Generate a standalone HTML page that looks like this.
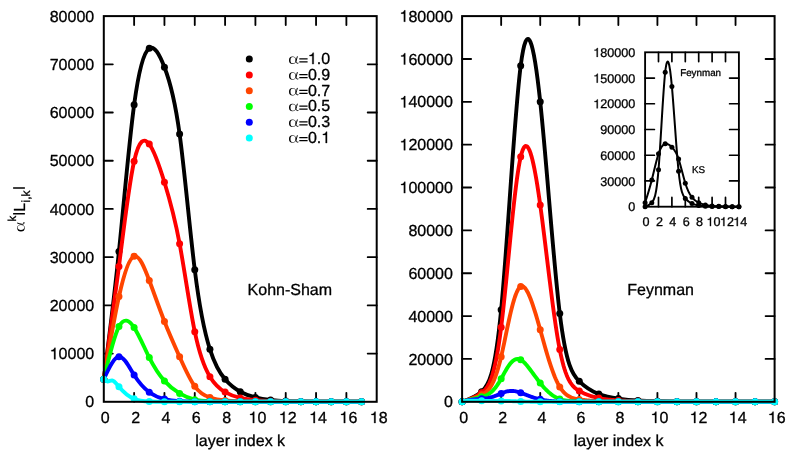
<!DOCTYPE html>
<html><head><meta charset="utf-8"><title>layer index plots</title>
<style>html,body{margin:0;padding:0;background:#fff;overflow:hidden}svg{display:block;will-change:transform}text,.n1{stroke:#000;stroke-width:.3px;stroke-linejoin:round}</style></head>
<body>
<svg width="805" height="458" viewBox="0 0 805 458" font-family='"Liberation Sans", sans-serif' fill="#000" text-rendering="geometricPrecision">
<rect width="805" height="458" fill="#fff"/>
<clipPath id="cl"><rect x="99.8" y="12.1" width="280.9" height="393.7"/></clipPath>
<path d="M134.12 401.8V392.8M134.12 16.1V25.1M164.44 401.8V392.8M164.44 16.1V25.1M194.77 401.8V392.8M194.77 16.1V25.1M225.09 401.8V392.8M225.09 16.1V25.1M255.41 401.8V392.8M255.41 16.1V25.1M285.73 401.8V392.8M285.73 16.1V25.1M316.06 401.8V392.8M316.06 16.1V25.1M346.38 401.8V392.8M346.38 16.1V25.1M103.8 353.59H112.8M376.7 353.59H367.7M103.8 305.38H112.8M376.7 305.38H367.7M103.8 257.16H112.8M376.7 257.16H367.7M103.8 208.95H112.8M376.7 208.95H367.7M103.8 160.74H112.8M376.7 160.74H367.7M103.8 112.53H112.8M376.7 112.53H367.7M103.8 64.31H112.8M376.7 64.31H367.7" fill="none" stroke="#000" stroke-width="1.84" stroke-linecap="round"/>
<g clip-path="url(#cl)">
<path d="M103.8 379.29C108.85 340.04 113.91 300.78 118.96 251.38C124.01 201.97 129.07 142.42 134.12 104.81C139.18 67.2 144.23 51.54 149.28 48.31C154.34 45.08 159.39 54.28 164.44 67.21C169.5 80.13 174.55 96.78 179.61 134.08C184.66 171.37 189.71 229.32 194.77 269.87C199.82 310.42 204.87 333.57 209.93 349.3C214.98 365.02 220.04 373.31 225.09 379.29C230.14 385.27 235.2 388.94 240.25 391.68C245.3 394.41 250.36 396.2 255.41 397.46C260.46 398.72 265.52 399.44 270.57 399.97C275.63 400.5 280.68 400.85 285.73 401.08C290.79 401.31 295.84 401.42 300.89 401.51C305.95 401.6 311 401.66 316.06 401.7C321.11 401.75 326.16 401.79 331.22 401.8C336.27 401.81 341.32 401.8 346.38 401.8C351.43 401.8 356.49 401.8 361.54 401.8" fill="none" stroke="#000000" stroke-width="3.9" stroke-linejoin="round" stroke-linecap="round"/>
<g fill="#000000"><circle cx="103.8" cy="379.29" r="3.5"/><circle cx="118.96" cy="251.38" r="3.5"/><circle cx="134.12" cy="104.81" r="3.5"/><circle cx="149.28" cy="48.31" r="3.5"/><circle cx="164.44" cy="67.21" r="3.5"/><circle cx="179.61" cy="134.08" r="3.5"/><circle cx="194.77" cy="269.87" r="3.5"/><circle cx="209.93" cy="349.3" r="3.5"/><circle cx="225.09" cy="379.29" r="3.5"/><circle cx="240.25" cy="391.68" r="3.5"/><circle cx="255.41" cy="397.46" r="3.5"/><circle cx="270.57" cy="399.97" r="3.5"/><circle cx="285.73" cy="401.08" r="3.5"/><circle cx="300.89" cy="401.51" r="3.5"/><circle cx="316.06" cy="401.7" r="3.5"/><circle cx="331.22" cy="401.8" r="3.5"/><circle cx="346.38" cy="401.8" r="3.5"/><circle cx="361.54" cy="401.8" r="3.5"/></g>
<path d="M103.8 379.29C108.85 342.76 113.91 306.22 118.96 266.42C124.01 226.62 129.07 183.55 134.12 161.24C139.18 138.93 144.23 137.38 149.28 144.1C154.34 150.83 159.39 165.84 164.44 182.27C169.5 198.71 174.55 216.56 179.61 243.71C184.66 270.86 189.71 307.3 194.77 331.69C199.82 356.07 204.87 368.41 209.93 376.69C214.98 384.96 220.04 389.18 225.09 392.11C230.14 395.04 235.2 396.69 240.25 397.88C245.3 399.07 250.36 399.79 255.41 400.29C260.46 400.78 265.52 401.04 270.57 401.23C275.63 401.41 280.68 401.52 285.73 401.6C290.79 401.67 295.84 401.7 300.89 401.73C305.95 401.75 311 401.77 316.06 401.78C321.11 401.79 326.16 401.8 331.22 401.8C336.27 401.8 341.32 401.8 346.38 401.8C351.43 401.8 356.49 401.8 361.54 401.8" fill="none" stroke="#ff0000" stroke-width="3.9" stroke-linejoin="round" stroke-linecap="round"/>
<g fill="#ff0000"><circle cx="103.8" cy="379.29" r="3.5"/><circle cx="118.96" cy="266.42" r="3.5"/><circle cx="134.12" cy="161.24" r="3.5"/><circle cx="149.28" cy="144.1" r="3.5"/><circle cx="164.44" cy="182.27" r="3.5"/><circle cx="179.61" cy="243.71" r="3.5"/><circle cx="194.77" cy="331.69" r="3.5"/><circle cx="209.93" cy="376.69" r="3.5"/><circle cx="225.09" cy="392.11" r="3.5"/><circle cx="240.25" cy="397.88" r="3.5"/><circle cx="255.41" cy="400.29" r="3.5"/><circle cx="270.57" cy="401.23" r="3.5"/><circle cx="285.73" cy="401.6" r="3.5"/><circle cx="300.89" cy="401.73" r="3.5"/><circle cx="316.06" cy="401.78" r="3.5"/><circle cx="331.22" cy="401.8" r="3.5"/><circle cx="346.38" cy="401.8" r="3.5"/><circle cx="361.54" cy="401.8" r="3.5"/></g>
<path d="M103.8 379.29C108.85 349.32 113.91 319.35 118.96 296.5C124.01 273.65 129.07 257.92 134.12 256.28C139.18 254.63 144.23 267.06 149.28 280.55C154.34 294.04 159.39 308.59 164.44 321.46C169.5 334.34 174.55 345.55 179.61 356.8C184.66 368.05 189.71 379.35 194.77 386.28C199.82 393.21 204.87 395.78 209.93 397.48C214.98 399.17 220.04 399.99 225.09 400.5C230.14 401.02 235.2 401.24 240.25 401.39C245.3 401.54 250.36 401.63 255.41 401.68C260.46 401.73 265.52 401.75 270.57 401.76C275.63 401.78 280.68 401.79 285.73 401.79C290.79 401.79 295.84 401.8 300.89 401.8C305.95 401.8 311 401.8 316.06 401.8C321.11 401.8 326.16 401.8 331.22 401.8C336.27 401.8 341.32 401.8 346.38 401.8C351.43 401.8 356.49 401.8 361.54 401.8" fill="none" stroke="#ff4500" stroke-width="3.9" stroke-linejoin="round" stroke-linecap="round"/>
<g fill="#ff4500"><circle cx="103.8" cy="379.29" r="3.5"/><circle cx="118.96" cy="296.5" r="3.5"/><circle cx="134.12" cy="256.28" r="3.5"/><circle cx="149.28" cy="280.55" r="3.5"/><circle cx="164.44" cy="321.46" r="3.5"/><circle cx="179.61" cy="356.8" r="3.5"/><circle cx="194.77" cy="386.28" r="3.5"/><circle cx="209.93" cy="397.48" r="3.5"/><circle cx="225.09" cy="400.5" r="3.5"/><circle cx="240.25" cy="401.39" r="3.5"/><circle cx="255.41" cy="401.68" r="3.5"/><circle cx="270.57" cy="401.76" r="3.5"/><circle cx="285.73" cy="401.79" r="3.5"/><circle cx="300.89" cy="401.8" r="3.5"/><circle cx="316.06" cy="401.8" r="3.5"/><circle cx="331.22" cy="401.8" r="3.5"/><circle cx="346.38" cy="401.8" r="3.5"/><circle cx="361.54" cy="401.8" r="3.5"/></g>
<path d="M103.8 379.29C108.85 357.66 113.91 336.02 118.96 326.59C124.01 317.16 129.07 319.94 134.12 327.55C139.18 335.17 144.23 347.61 149.28 357.61C154.34 367.62 159.39 375.18 164.44 380.89C169.5 386.6 174.55 390.45 179.61 393.43C184.66 396.42 189.71 398.54 194.77 399.74C199.82 400.94 204.87 401.21 209.93 401.39C214.98 401.57 220.04 401.66 225.09 401.71C230.14 401.76 235.2 401.77 240.25 401.78C245.3 401.79 250.36 401.79 255.41 401.8C260.46 401.8 265.52 401.8 270.57 401.8C275.63 401.8 280.68 401.8 285.73 401.8C290.79 401.8 295.84 401.8 300.89 401.8C305.95 401.8 311 401.8 316.06 401.8C321.11 401.8 326.16 401.8 331.22 401.8C336.27 401.8 341.32 401.8 346.38 401.8C351.43 401.8 356.49 401.8 361.54 401.8" fill="none" stroke="#00ff00" stroke-width="3.9" stroke-linejoin="round" stroke-linecap="round"/>
<g fill="#00ff00"><circle cx="103.8" cy="379.29" r="3.5"/><circle cx="118.96" cy="326.59" r="3.5"/><circle cx="134.12" cy="327.55" r="3.5"/><circle cx="149.28" cy="357.61" r="3.5"/><circle cx="164.44" cy="380.89" r="3.5"/><circle cx="179.61" cy="393.43" r="3.5"/><circle cx="194.77" cy="399.74" r="3.5"/><circle cx="209.93" cy="401.39" r="3.5"/><circle cx="225.09" cy="401.71" r="3.5"/><circle cx="240.25" cy="401.78" r="3.5"/><circle cx="255.41" cy="401.8" r="3.5"/><circle cx="270.57" cy="401.8" r="3.5"/><circle cx="285.73" cy="401.8" r="3.5"/><circle cx="300.89" cy="401.8" r="3.5"/><circle cx="316.06" cy="401.8" r="3.5"/><circle cx="331.22" cy="401.8" r="3.5"/><circle cx="346.38" cy="401.8" r="3.5"/><circle cx="361.54" cy="401.8" r="3.5"/></g>
<path d="M103.8 379.29C108.85 368.12 113.91 356.95 118.96 356.67C124.01 356.4 129.07 367.03 134.12 375.07C139.18 383.11 144.23 388.57 149.28 392.26C154.34 395.95 159.39 397.87 164.44 399.09C169.5 400.31 174.55 400.82 179.61 401.15C184.66 401.48 189.71 401.63 194.77 401.7C199.82 401.78 204.87 401.78 209.93 401.79C214.98 401.79 220.04 401.8 225.09 401.8C230.14 401.8 235.2 401.8 240.25 401.8C245.3 401.8 250.36 401.8 255.41 401.8C260.46 401.8 265.52 401.8 270.57 401.8C275.63 401.8 280.68 401.8 285.73 401.8C290.79 401.8 295.84 401.8 300.89 401.8C305.95 401.8 311 401.8 316.06 401.8C321.11 401.8 326.16 401.8 331.22 401.8C336.27 401.8 341.32 401.8 346.38 401.8C351.43 401.8 356.49 401.8 361.54 401.8" fill="none" stroke="#0000ff" stroke-width="3.9" stroke-linejoin="round" stroke-linecap="round"/>
<g fill="#0000ff"><circle cx="103.8" cy="379.29" r="3.5"/><circle cx="118.96" cy="356.67" r="3.5"/><circle cx="134.12" cy="375.07" r="3.5"/><circle cx="149.28" cy="392.26" r="3.5"/><circle cx="164.44" cy="399.09" r="3.5"/><circle cx="179.61" cy="401.15" r="3.5"/><circle cx="194.77" cy="401.7" r="3.5"/><circle cx="209.93" cy="401.79" r="3.5"/><circle cx="225.09" cy="401.8" r="3.5"/><circle cx="240.25" cy="401.8" r="3.5"/><circle cx="255.41" cy="401.8" r="3.5"/><circle cx="270.57" cy="401.8" r="3.5"/><circle cx="285.73" cy="401.8" r="3.5"/><circle cx="300.89" cy="401.8" r="3.5"/><circle cx="316.06" cy="401.8" r="3.5"/><circle cx="331.22" cy="401.8" r="3.5"/><circle cx="346.38" cy="401.8" r="3.5"/><circle cx="361.54" cy="401.8" r="3.5"/></g>
<path d="M103.8 379.29C104.91 380.25 106.02 381.21 107.14 381.41C108.8 381.7 110.47 380.3 112.14 380.49C114.41 380.75 116.69 383.99 118.96 386.76C124.01 392.91 129.07 396.75 134.12 398.83C139.18 400.91 144.23 401.24 149.28 401.45C154.34 401.65 159.39 401.73 164.44 401.77C169.5 401.8 174.55 401.8 179.61 401.8C184.66 401.8 189.71 401.8 194.77 401.8C199.82 401.8 204.87 401.8 209.93 401.8C214.98 401.8 220.04 401.8 225.09 401.8C230.14 401.8 235.2 401.8 240.25 401.8C245.3 401.8 250.36 401.8 255.41 401.8C260.46 401.8 265.52 401.8 270.57 401.8C275.63 401.8 280.68 401.8 285.73 401.8C290.79 401.8 295.84 401.8 300.89 401.8C305.95 401.8 311 401.8 316.06 401.8C321.11 401.8 326.16 401.8 331.22 401.8C336.27 401.8 341.32 401.8 346.38 401.8C351.43 401.8 356.49 401.8 361.54 401.8" fill="none" stroke="#00ffff" stroke-width="3.9" stroke-linejoin="round" stroke-linecap="round"/>
<g fill="#00ffff"><circle cx="103.8" cy="379.29" r="3.5"/><circle cx="118.96" cy="386.76" r="3.5"/><circle cx="134.12" cy="398.83" r="3.5"/><circle cx="149.28" cy="401.45" r="3.5"/><circle cx="164.44" cy="401.77" r="3.5"/><circle cx="179.61" cy="401.8" r="3.5"/><circle cx="194.77" cy="401.8" r="3.5"/><circle cx="209.93" cy="401.8" r="3.5"/><circle cx="225.09" cy="401.8" r="3.5"/><circle cx="240.25" cy="401.8" r="3.5"/><circle cx="255.41" cy="401.8" r="3.5"/><circle cx="270.57" cy="401.8" r="3.5"/><circle cx="285.73" cy="401.8" r="3.5"/><circle cx="300.89" cy="401.8" r="3.5"/><circle cx="316.06" cy="401.8" r="3.5"/><circle cx="331.22" cy="401.8" r="3.5"/><circle cx="346.38" cy="401.8" r="3.5"/><circle cx="361.54" cy="401.8" r="3.5"/></g>
</g>
<rect x="103.8" y="16.1" width="272.9" height="385.7" fill="none" stroke="#000" stroke-width="2" stroke-linejoin="miter"/>
<text x="100.85" y="423" font-size="16">0</text>
<text x="131.17" y="423" font-size="16">2</text>
<text x="161.5" y="423" font-size="16">4</text>
<text x="191.82" y="423" font-size="16">6</text>
<text x="222.14" y="423" font-size="16">8</text>
<text x="257.41" y="423" font-size="16">0</text><path class="n1" d="M254.26 423H252.86V414.95H250.13V413.96C251.7 413.88 252.88 413.35 253.34 411.66H254.26Z"/>
<text x="287.73" y="423" font-size="16">2</text><path class="n1" d="M284.58 423H283.19V414.95H280.45V413.96C282.02 413.88 283.2 413.35 283.67 411.66H284.58Z"/>
<text x="318.06" y="423" font-size="16">4</text><path class="n1" d="M314.9 423H313.51V414.95H310.77V413.96C312.34 413.88 313.53 413.35 313.99 411.66H314.9Z"/>
<text x="348.38" y="423" font-size="16">6</text><path class="n1" d="M345.22 423H343.83V414.95H341.1V413.96C342.66 413.88 343.85 413.35 344.31 411.66H345.22Z"/>
<text x="378.7" y="423" font-size="16">8</text><path class="n1" d="M375.55 423H374.15V414.95H371.42V413.96C372.99 413.88 374.17 413.35 374.63 411.66H375.55Z"/>
<text x="85.3" y="407.4" font-size="16">0</text>
<text x="58.61 67.5 76.4 85.3" y="359.19" font-size="16">0000</text><path class="n1" d="M55.45 359.19H54.06V351.14H51.32V350.15C52.89 350.07 54.08 349.54 54.54 347.84H55.45Z"/>
<text x="49.71 58.61 67.5 76.4 85.3" y="310.98" font-size="16">20000</text>
<text x="49.71 58.61 67.5 76.4 85.3" y="262.76" font-size="16">30000</text>
<text x="49.71 58.61 67.5 76.4 85.3" y="214.55" font-size="16">40000</text>
<text x="49.71 58.61 67.5 76.4 85.3" y="166.34" font-size="16">50000</text>
<text x="49.71 58.61 67.5 76.4 85.3" y="118.13" font-size="16">60000</text>
<text x="49.71 58.61 67.5 76.4 85.3" y="69.91" font-size="16">70000</text>
<text x="49.71 58.61 67.5 76.4 85.3" y="21.7" font-size="16">80000</text>
<clipPath id="cr"><rect x="458.1" y="12.1" width="320.5" height="393.7"/></clipPath>
<path d="M501.16 401.8V392.8M501.16 16.1V25.1M540.23 401.8V392.8M540.23 16.1V25.1M579.29 401.8V392.8M579.29 16.1V25.1M618.35 401.8V392.8M618.35 16.1V25.1M657.41 401.8V392.8M657.41 16.1V25.1M696.48 401.8V392.8M696.48 16.1V25.1M735.54 401.8V392.8M735.54 16.1V25.1M462.1 358.94H471.1M774.6 358.94H765.6M462.1 316.09H471.1M774.6 316.09H765.6M462.1 273.23H471.1M774.6 273.23H765.6M462.1 230.38H471.1M774.6 230.38H765.6M462.1 187.52H471.1M774.6 187.52H765.6M462.1 144.67H471.1M774.6 144.67H765.6M462.1 101.81H471.1M774.6 101.81H765.6M462.1 58.96H471.1M774.6 58.96H765.6" fill="none" stroke="#000" stroke-width="1.84" stroke-linecap="round"/>
<g clip-path="url(#cr)">
<path d="M462.1 401.8C468.61 399.57 475.12 397.34 481.63 391.73C488.14 386.12 494.65 377.14 501.16 309.66C507.67 242.19 514.18 116.22 520.69 65.81C527.2 15.41 533.71 40.56 540.23 101.81C546.74 163.06 553.25 260.41 559.76 313.41C566.27 366.41 572.78 375.05 579.29 381.34C585.8 387.63 592.31 391.56 598.82 394.09C605.33 396.61 611.84 397.71 618.35 398.59C624.86 399.46 631.37 400.1 637.88 400.51C644.39 400.93 650.9 401.12 657.41 401.26C663.92 401.41 670.43 401.51 676.94 401.59C683.45 401.66 689.96 401.7 696.48 401.74C702.99 401.77 709.5 401.79 716.01 401.8C722.52 401.81 729.03 401.8 735.54 401.8C742.05 401.8 748.56 401.8 755.07 401.8C761.58 401.8 768.09 401.8 774.6 401.8" fill="none" stroke="#000000" stroke-width="3.9" stroke-linejoin="round" stroke-linecap="round"/>
<g fill="#000000"><circle cx="462.1" cy="401.8" r="3.5"/><circle cx="481.63" cy="391.73" r="3.5"/><circle cx="501.16" cy="309.66" r="3.5"/><circle cx="520.69" cy="65.81" r="3.5"/><circle cx="540.23" cy="101.81" r="3.5"/><circle cx="559.76" cy="313.41" r="3.5"/><circle cx="579.29" cy="381.34" r="3.5"/><circle cx="598.82" cy="394.09" r="3.5"/><circle cx="618.35" cy="398.59" r="3.5"/><circle cx="637.88" cy="400.51" r="3.5"/><circle cx="657.41" cy="401.26" r="3.5"/><circle cx="676.94" cy="401.59" r="3.5"/><circle cx="696.48" cy="401.74" r="3.5"/><circle cx="716.01" cy="401.8" r="3.5"/><circle cx="735.54" cy="401.8" r="3.5"/><circle cx="755.07" cy="401.8" r="3.5"/><circle cx="774.6" cy="401.8" r="3.5"/></g>
<path d="M462.1 401.8L463.08 401.47L464.05 401.13L465.03 400.8L466.01 400.46L466.98 400.12L467.96 399.77L468.94 399.4L469.91 399.03L470.89 398.63L471.87 398.22L472.84 397.8L473.82 397.34L474.8 396.87L475.77 396.37L476.75 395.84L477.73 395.29L478.7 394.7L479.68 394.08L480.65 393.43L481.63 392.74L482.61 392L483.58 391.19L484.56 390.28L485.54 389.21L486.51 387.97L487.49 386.52L488.47 384.83L489.44 382.86L490.42 380.59L491.4 377.97L492.37 375L493.35 371.62L494.33 367.83L495.3 363.58L496.28 358.86L497.26 353.63L498.23 347.87L499.21 341.56L500.19 334.66L501.16 327.17L502.14 319.06L503.12 310.43L504.09 301.34L505.07 291.9L506.05 282.18L507.02 272.28L508 262.26L508.98 252.23L509.95 242.24L510.93 232.39L511.9 222.74L512.88 213.37L513.86 204.35L514.83 195.76L515.81 187.66L516.79 180.12L517.76 173.2L518.74 166.98L519.72 161.52L520.69 156.87L521.67 153.08L522.65 150.13L523.62 147.99L524.6 146.63L525.58 146.01L526.55 146.1L527.53 146.87L528.51 148.28L529.48 150.31L530.46 152.92L531.44 156.09L532.41 159.79L533.39 163.98L534.37 168.65L535.34 173.75L536.32 179.27L537.3 185.18L538.27 191.45L539.25 198.06L540.23 204.98L541.2 212.18L542.18 219.62L543.15 227.26L544.13 235.06L545.11 242.97L546.08 250.96L547.06 258.98L548.04 267L549.01 274.97L549.99 282.86L550.97 290.63L551.94 298.25L552.92 305.68L553.9 312.89L554.87 319.84L555.85 326.5L556.83 332.84L557.8 338.82L558.78 344.42L559.76 349.61L560.73 354.36L561.71 358.69L562.69 362.63L563.66 366.2L564.64 369.42L565.62 372.32L566.59 374.91L567.57 377.23L568.55 379.29L569.52 381.12L570.5 382.74L571.48 384.16L572.45 385.41L573.43 386.5L574.4 387.46L575.38 388.31L576.36 389.06L577.33 389.74L578.31 390.35L579.29 390.92L580.26 391.47L581.24 391.99L582.22 392.49L583.19 392.97L584.17 393.43L585.15 393.86L586.12 394.28L587.1 394.67L588.08 395.05L589.05 395.41L590.03 395.75L591.01 396.07L591.98 396.38L592.96 396.67L593.94 396.95L594.91 397.21L595.89 397.45L596.87 397.68L597.84 397.9L598.82 398.11L599.8 398.3L600.77 398.49L601.75 398.66L602.73 398.82L603.7 398.97L604.68 399.11L605.65 399.25L606.63 399.37L607.61 399.49L608.58 399.6L609.56 399.7L610.54 399.8L611.51 399.89L612.49 399.98L613.47 400.06L614.44 400.14L615.42 400.21L616.4 400.28L617.37 400.35L618.35 400.42L619.33 400.48L620.3 400.54L621.28 400.6L622.26 400.65L623.23 400.71L624.21 400.76L625.19 400.81L626.16 400.86L627.14 400.91L628.12 400.95L629.09 400.99L630.07 401.04L631.05 401.07L632.02 401.11L633 401.15L633.98 401.18L634.95 401.21L635.93 401.25L636.9 401.27L637.88 401.3L638.86 401.33L639.83 401.35L640.81 401.38L641.79 401.4L642.76 401.42L643.74 401.44L644.72 401.45L645.69 401.47L646.67 401.49L647.65 401.5L648.62 401.52L649.6 401.53L650.58 401.54L651.55 401.55L652.53 401.57L653.51 401.58L654.48 401.59L655.46 401.6L656.44 401.6L657.41 401.61L658.39 401.62L659.37 401.63L660.34 401.64L661.32 401.65L662.3 401.65L663.27 401.66L664.25 401.67L665.23 401.67L666.2 401.68L667.18 401.68L668.15 401.69L669.13 401.7L670.11 401.7L671.08 401.71L672.06 401.71L673.04 401.72L674.01 401.72L674.99 401.72L675.97 401.73L676.94 401.73L677.92 401.74L678.9 401.74L679.87 401.74L680.85 401.75L681.83 401.75L682.8 401.75L683.78 401.76L684.76 401.76L685.73 401.76L686.71 401.76L687.69 401.77L688.66 401.77L689.64 401.77L690.62 401.77L691.59 401.77L692.57 401.78L693.55 401.78L694.52 401.78L695.5 401.78L696.48 401.78L697.45 401.78L698.43 401.78L699.4 401.79L700.38 401.79L701.36 401.79L702.33 401.79L703.31 401.79L704.29 401.79L705.26 401.79L706.24 401.79L707.22 401.79L708.19 401.8L709.17 401.8L710.15 401.8L711.12 401.8L712.1 401.8L713.08 401.8L714.05 401.8L715.03 401.8L716.01 401.8L716.98 401.8L717.96 401.8L718.94 401.8L719.91 401.8L720.89 401.8L721.87 401.8L722.84 401.8L723.82 401.8L724.8 401.8L725.77 401.8L726.75 401.8L727.73 401.8L728.7 401.8L729.68 401.8L730.65 401.8L731.63 401.8L732.61 401.8L733.58 401.8L734.56 401.8L735.54 401.8L736.51 401.8L737.49 401.8L738.47 401.8L739.44 401.8L740.42 401.8L741.4 401.8L742.37 401.8L743.35 401.8L744.33 401.8L745.3 401.8L746.28 401.8L747.26 401.8L748.23 401.8L749.21 401.8L750.19 401.8L751.16 401.8L752.14 401.8L753.12 401.8L754.09 401.8L755.07 401.8L756.05 401.8L757.02 401.8L758 401.8L758.98 401.8L759.95 401.8L760.93 401.8L761.9 401.8L762.88 401.8L763.86 401.8L764.83 401.8L765.81 401.8L766.79 401.8L767.76 401.8L768.74 401.8L769.72 401.8L770.69 401.8L771.67 401.8L772.65 401.8L773.62 401.8L774.6 401.8" fill="none" stroke="#ff0000" stroke-width="3.9" stroke-linejoin="round" stroke-linecap="round"/>
<g fill="#ff0000"><circle cx="462.1" cy="401.8" r="3.5"/><circle cx="481.63" cy="392.74" r="3.5"/><circle cx="501.16" cy="327.17" r="3.5"/><circle cx="520.69" cy="156.87" r="3.5"/><circle cx="540.23" cy="204.98" r="3.5"/><circle cx="559.76" cy="349.61" r="3.5"/><circle cx="579.29" cy="390.92" r="3.5"/><circle cx="598.82" cy="398.11" r="3.5"/><circle cx="618.35" cy="400.42" r="3.5"/><circle cx="637.88" cy="401.3" r="3.5"/><circle cx="657.41" cy="401.61" r="3.5"/><circle cx="676.94" cy="401.73" r="3.5"/><circle cx="696.48" cy="401.78" r="3.5"/><circle cx="716.01" cy="401.8" r="3.5"/><circle cx="735.54" cy="401.8" r="3.5"/><circle cx="755.07" cy="401.8" r="3.5"/><circle cx="774.6" cy="401.8" r="3.5"/></g>
<path d="M462.1 401.8L463.08 401.47L464.05 401.15L465.03 400.84L466.01 400.53L466.98 400.22L467.96 399.91L468.94 399.6L469.91 399.29L470.89 398.97L471.87 398.65L472.84 398.31L473.82 397.97L474.8 397.61L475.77 397.25L476.75 396.87L477.73 396.47L478.7 396.07L479.68 395.64L480.65 395.21L481.63 394.75L482.61 394.27L483.58 393.76L484.56 393.17L485.54 392.49L486.51 391.7L487.49 390.78L488.47 389.71L489.44 388.48L490.42 387.06L491.4 385.46L492.37 383.64L493.35 381.61L494.33 379.36L495.3 376.87L496.28 374.14L497.26 371.16L498.23 367.92L499.21 364.43L500.19 360.67L501.16 356.65L502.14 352.37L503.12 347.9L504.09 343.28L505.07 338.58L506.05 333.84L507.02 329.14L508 324.5L508.98 319.97L509.95 315.6L510.93 311.42L511.9 307.46L512.88 303.77L513.86 300.36L514.83 297.27L515.81 294.51L516.79 292.12L517.76 290.11L518.74 288.5L519.72 287.31L520.69 286.56L521.67 286.23L522.65 286.33L523.62 286.8L524.6 287.63L525.58 288.78L526.55 290.23L527.53 291.95L528.51 293.93L529.48 296.12L530.46 298.53L531.44 301.12L532.41 303.87L533.39 306.77L534.37 309.8L535.34 312.93L536.32 316.17L537.3 319.48L538.27 322.86L539.25 326.3L540.23 329.77L541.2 333.27L542.18 336.79L543.15 340.29L544.13 343.77L545.11 347.22L546.08 350.61L547.06 353.94L548.04 357.19L549.01 360.35L549.99 363.41L550.97 366.37L551.94 369.21L552.92 371.93L553.9 374.51L554.87 376.96L555.85 379.26L556.83 381.42L557.8 383.42L558.78 385.26L559.76 386.94L560.73 388.47L561.71 389.83L562.69 391.06L563.66 392.16L564.64 393.14L565.62 394.02L566.59 394.79L567.57 395.48L568.55 396.08L569.52 396.61L570.5 397.07L571.48 397.48L572.45 397.84L573.43 398.15L574.4 398.42L575.38 398.66L576.36 398.87L577.33 399.06L578.31 399.23L579.29 399.39L580.26 399.54L581.24 399.68L582.22 399.82L583.19 399.94L584.17 400.06L585.15 400.17L586.12 400.28L587.1 400.37L588.08 400.47L589.05 400.55L590.03 400.63L591.01 400.71L591.98 400.78L592.96 400.85L593.94 400.91L594.91 400.97L595.89 401.02L596.87 401.07L597.84 401.12L598.82 401.16L599.8 401.21L600.77 401.24L601.75 401.28L602.73 401.31L603.7 401.34L604.68 401.37L605.65 401.4L606.63 401.42L607.61 401.44L608.58 401.47L609.56 401.49L610.54 401.5L611.51 401.52L612.49 401.54L613.47 401.55L614.44 401.57L615.42 401.58L616.4 401.59L617.37 401.6L618.35 401.61L619.33 401.63L620.3 401.64L621.28 401.64L622.26 401.65L623.23 401.66L624.21 401.67L625.19 401.68L626.16 401.69L627.14 401.69L628.12 401.7L629.09 401.71L630.07 401.71L631.05 401.72L632.02 401.72L633 401.73L633.98 401.73L634.95 401.74L635.93 401.74L636.9 401.74L637.88 401.75L638.86 401.75L639.83 401.75L640.81 401.76L641.79 401.76L642.76 401.76L643.74 401.76L644.72 401.77L645.69 401.77L646.67 401.77L647.65 401.77L648.62 401.77L649.6 401.78L650.58 401.78L651.55 401.78L652.53 401.78L653.51 401.78L654.48 401.78L655.46 401.78L656.44 401.78L657.41 401.78L658.39 401.79L659.37 401.79L660.34 401.79L661.32 401.79L662.3 401.79L663.27 401.79L664.25 401.79L665.23 401.79L666.2 401.79L667.18 401.79L668.15 401.79L669.13 401.79L670.11 401.79L671.08 401.79L672.06 401.79L673.04 401.79L674.01 401.79L674.99 401.8L675.97 401.8L676.94 401.8L677.92 401.8L678.9 401.8L679.87 401.8L680.85 401.8L681.83 401.8L682.8 401.8L683.78 401.8L684.76 401.8L685.73 401.8L686.71 401.8L687.69 401.8L688.66 401.8L689.64 401.8L690.62 401.8L691.59 401.8L692.57 401.8L693.55 401.8L694.52 401.8L695.5 401.8L696.48 401.8L697.45 401.8L698.43 401.8L699.4 401.8L700.38 401.8L701.36 401.8L702.33 401.8L703.31 401.8L704.29 401.8L705.26 401.8L706.24 401.8L707.22 401.8L708.19 401.8L709.17 401.8L710.15 401.8L711.12 401.8L712.1 401.8L713.08 401.8L714.05 401.8L715.03 401.8L716.01 401.8L716.98 401.8L717.96 401.8L718.94 401.8L719.91 401.8L720.89 401.8L721.87 401.8L722.84 401.8L723.82 401.8L724.8 401.8L725.77 401.8L726.75 401.8L727.73 401.8L728.7 401.8L729.68 401.8L730.65 401.8L731.63 401.8L732.61 401.8L733.58 401.8L734.56 401.8L735.54 401.8L736.51 401.8L737.49 401.8L738.47 401.8L739.44 401.8L740.42 401.8L741.4 401.8L742.37 401.8L743.35 401.8L744.33 401.8L745.3 401.8L746.28 401.8L747.26 401.8L748.23 401.8L749.21 401.8L750.19 401.8L751.16 401.8L752.14 401.8L753.12 401.8L754.09 401.8L755.07 401.8L756.05 401.8L757.02 401.8L758 401.8L758.98 401.8L759.95 401.8L760.93 401.8L761.9 401.8L762.88 401.8L763.86 401.8L764.83 401.8L765.81 401.8L766.79 401.8L767.76 401.8L768.74 401.8L769.72 401.8L770.69 401.8L771.67 401.8L772.65 401.8L773.62 401.8L774.6 401.8" fill="none" stroke="#ff4500" stroke-width="3.9" stroke-linejoin="round" stroke-linecap="round"/>
<g fill="#ff4500"><circle cx="462.1" cy="401.8" r="3.5"/><circle cx="481.63" cy="394.75" r="3.5"/><circle cx="501.16" cy="356.65" r="3.5"/><circle cx="520.69" cy="286.56" r="3.5"/><circle cx="540.23" cy="329.77" r="3.5"/><circle cx="559.76" cy="386.94" r="3.5"/><circle cx="579.29" cy="399.39" r="3.5"/><circle cx="598.82" cy="401.16" r="3.5"/><circle cx="618.35" cy="401.61" r="3.5"/><circle cx="637.88" cy="401.75" r="3.5"/><circle cx="657.41" cy="401.78" r="3.5"/><circle cx="676.94" cy="401.8" r="3.5"/><circle cx="696.48" cy="401.8" r="3.5"/><circle cx="716.01" cy="401.8" r="3.5"/><circle cx="735.54" cy="401.8" r="3.5"/><circle cx="755.07" cy="401.8" r="3.5"/><circle cx="774.6" cy="401.8" r="3.5"/></g>
<path d="M462.1 401.8L463.08 401.48L464.05 401.17L465.03 400.88L466.01 400.61L466.98 400.35L467.96 400.09L468.94 399.85L469.91 399.61L470.89 399.37L471.87 399.13L472.84 398.9L473.82 398.67L474.8 398.44L475.77 398.2L476.75 397.97L477.73 397.73L478.7 397.49L479.68 397.25L480.65 397.01L481.63 396.76L482.61 396.51L483.58 396.24L484.56 395.94L485.54 395.58L486.51 395.17L487.49 394.69L488.47 394.13L489.44 393.48L490.42 392.75L491.4 391.93L492.37 391.02L493.35 390.02L494.33 388.92L495.3 387.73L496.28 386.45L497.26 385.08L498.23 383.62L499.21 382.08L500.19 380.46L501.16 378.77L502.14 377L503.12 375.21L504.09 373.41L505.07 371.64L506.05 369.93L507.02 368.29L508 366.74L508.98 365.31L509.95 364L510.93 362.83L511.9 361.8L512.88 360.93L513.86 360.21L514.83 359.66L515.81 359.27L516.79 359.05L517.76 358.99L518.74 359.1L519.72 359.37L520.69 359.8L521.67 360.39L522.65 361.11L523.62 361.95L524.6 362.9L525.58 363.93L526.55 365.04L527.53 366.22L528.51 367.44L529.48 368.7L530.46 369.99L531.44 371.31L532.41 372.64L533.39 373.97L534.37 375.31L535.34 376.64L536.32 377.96L537.3 379.26L538.27 380.55L539.25 381.81L540.23 383.05L541.2 384.26L542.18 385.44L543.15 386.58L544.13 387.68L545.11 388.74L546.08 389.75L547.06 390.72L548.04 391.65L549.01 392.53L549.99 393.35L550.97 394.14L551.94 394.87L552.92 395.55L553.9 396.19L554.87 396.78L555.85 397.32L556.83 397.81L557.8 398.27L558.78 398.67L559.76 399.04L560.73 399.36L561.71 399.65L562.69 399.9L563.66 400.12L564.64 400.32L565.62 400.49L566.59 400.64L567.57 400.77L568.55 400.89L569.52 400.98L570.5 401.07L571.48 401.14L572.45 401.21L573.43 401.26L574.4 401.31L575.38 401.35L576.36 401.39L577.33 401.42L578.31 401.45L579.29 401.48L580.26 401.51L581.24 401.53L582.22 401.55L583.19 401.57L584.17 401.59L585.15 401.6L586.12 401.62L587.1 401.63L588.08 401.65L589.05 401.66L590.03 401.67L591.01 401.68L591.98 401.69L592.96 401.7L593.94 401.71L594.91 401.72L595.89 401.72L596.87 401.73L597.84 401.73L598.82 401.74L599.8 401.74L600.77 401.75L601.75 401.75L602.73 401.76L603.7 401.76L604.68 401.76L605.65 401.77L606.63 401.77L607.61 401.77L608.58 401.77L609.56 401.78L610.54 401.78L611.51 401.78L612.49 401.78L613.47 401.78L614.44 401.78L615.42 401.78L616.4 401.79L617.37 401.79L618.35 401.79L619.33 401.79L620.3 401.79L621.28 401.79L622.26 401.79L623.23 401.79L624.21 401.79L625.19 401.79L626.16 401.79L627.14 401.79L628.12 401.79L629.09 401.79L630.07 401.8L631.05 401.8L632.02 401.8L633 401.8L633.98 401.8L634.95 401.8L635.93 401.8L636.9 401.8L637.88 401.8L638.86 401.8L639.83 401.8L640.81 401.8L641.79 401.8L642.76 401.8L643.74 401.8L644.72 401.8L645.69 401.8L646.67 401.8L647.65 401.8L648.62 401.8L649.6 401.8L650.58 401.8L651.55 401.8L652.53 401.8L653.51 401.8L654.48 401.8L655.46 401.8L656.44 401.8L657.41 401.8L658.39 401.8L659.37 401.8L660.34 401.8L661.32 401.8L662.3 401.8L663.27 401.8L664.25 401.8L665.23 401.8L666.2 401.8L667.18 401.8L668.15 401.8L669.13 401.8L670.11 401.8L671.08 401.8L672.06 401.8L673.04 401.8L674.01 401.8L674.99 401.8L675.97 401.8L676.94 401.8L677.92 401.8L678.9 401.8L679.87 401.8L680.85 401.8L681.83 401.8L682.8 401.8L683.78 401.8L684.76 401.8L685.73 401.8L686.71 401.8L687.69 401.8L688.66 401.8L689.64 401.8L690.62 401.8L691.59 401.8L692.57 401.8L693.55 401.8L694.52 401.8L695.5 401.8L696.48 401.8L697.45 401.8L698.43 401.8L699.4 401.8L700.38 401.8L701.36 401.8L702.33 401.8L703.31 401.8L704.29 401.8L705.26 401.8L706.24 401.8L707.22 401.8L708.19 401.8L709.17 401.8L710.15 401.8L711.12 401.8L712.1 401.8L713.08 401.8L714.05 401.8L715.03 401.8L716.01 401.8L716.98 401.8L717.96 401.8L718.94 401.8L719.91 401.8L720.89 401.8L721.87 401.8L722.84 401.8L723.82 401.8L724.8 401.8L725.77 401.8L726.75 401.8L727.73 401.8L728.7 401.8L729.68 401.8L730.65 401.8L731.63 401.8L732.61 401.8L733.58 401.8L734.56 401.8L735.54 401.8L736.51 401.8L737.49 401.8L738.47 401.8L739.44 401.8L740.42 401.8L741.4 401.8L742.37 401.8L743.35 401.8L744.33 401.8L745.3 401.8L746.28 401.8L747.26 401.8L748.23 401.8L749.21 401.8L750.19 401.8L751.16 401.8L752.14 401.8L753.12 401.8L754.09 401.8L755.07 401.8L756.05 401.8L757.02 401.8L758 401.8L758.98 401.8L759.95 401.8L760.93 401.8L761.9 401.8L762.88 401.8L763.86 401.8L764.83 401.8L765.81 401.8L766.79 401.8L767.76 401.8L768.74 401.8L769.72 401.8L770.69 401.8L771.67 401.8L772.65 401.8L773.62 401.8L774.6 401.8" fill="none" stroke="#00ff00" stroke-width="3.9" stroke-linejoin="round" stroke-linecap="round"/>
<g fill="#00ff00"><circle cx="462.1" cy="401.8" r="3.5"/><circle cx="481.63" cy="396.76" r="3.5"/><circle cx="501.16" cy="378.77" r="3.5"/><circle cx="520.69" cy="359.8" r="3.5"/><circle cx="540.23" cy="383.05" r="3.5"/><circle cx="559.76" cy="399.04" r="3.5"/><circle cx="579.29" cy="401.48" r="3.5"/><circle cx="598.82" cy="401.74" r="3.5"/><circle cx="618.35" cy="401.79" r="3.5"/><circle cx="637.88" cy="401.8" r="3.5"/><circle cx="657.41" cy="401.8" r="3.5"/><circle cx="676.94" cy="401.8" r="3.5"/><circle cx="696.48" cy="401.8" r="3.5"/><circle cx="716.01" cy="401.8" r="3.5"/><circle cx="735.54" cy="401.8" r="3.5"/><circle cx="755.07" cy="401.8" r="3.5"/><circle cx="774.6" cy="401.8" r="3.5"/></g>
<path d="M462.1 401.8L463.08 401.48L464.05 401.2L465.03 400.95L466.01 400.73L466.98 400.52L467.96 400.34L468.94 400.17L469.91 400.01L470.89 399.87L471.87 399.74L472.84 399.61L473.82 399.5L474.8 399.39L475.77 399.28L476.75 399.19L477.73 399.1L478.7 399.01L479.68 398.93L480.65 398.85L481.63 398.78L482.61 398.71L483.58 398.63L484.56 398.54L485.54 398.43L486.51 398.3L487.49 398.14L488.47 397.95L489.44 397.73L490.42 397.49L491.4 397.21L492.37 396.92L493.35 396.6L494.33 396.26L495.3 395.9L496.28 395.52L497.26 395.13L498.23 394.73L499.21 394.33L500.19 393.92L501.16 393.51L502.14 393.1L503.12 392.7L504.09 392.33L505.07 392L506.05 391.7L507.02 391.45L508 391.25L508.98 391.09L509.95 390.99L510.93 390.93L511.9 390.93L512.88 390.97L513.86 391.06L514.83 391.19L515.81 391.36L516.79 391.57L517.76 391.82L518.74 392.09L519.72 392.4L520.69 392.73L521.67 393.08L522.65 393.45L523.62 393.83L524.6 394.21L525.58 394.6L526.55 394.99L527.53 395.37L528.51 395.75L529.48 396.12L530.46 396.48L531.44 396.83L532.41 397.16L533.39 397.49L534.37 397.8L535.34 398.09L536.32 398.38L537.3 398.65L538.27 398.9L539.25 399.14L540.23 399.37L541.2 399.58L542.18 399.78L543.15 399.97L544.13 400.15L545.11 400.31L546.08 400.46L547.06 400.6L548.04 400.73L549.01 400.84L549.99 400.95L550.97 401.05L551.94 401.14L552.92 401.22L553.9 401.29L554.87 401.36L555.85 401.41L556.83 401.47L557.8 401.51L558.78 401.55L559.76 401.59L560.73 401.62L561.71 401.64L562.69 401.66L563.66 401.68L564.64 401.7L565.62 401.71L566.59 401.72L567.57 401.73L568.55 401.74L569.52 401.75L570.5 401.76L571.48 401.76L572.45 401.77L573.43 401.77L574.4 401.77L575.38 401.78L576.36 401.78L577.33 401.78L578.31 401.78L579.29 401.79L580.26 401.79L581.24 401.79L582.22 401.79L583.19 401.79L584.17 401.79L585.15 401.79L586.12 401.79L587.1 401.79L588.08 401.79L589.05 401.79L590.03 401.8L591.01 401.8L591.98 401.8L592.96 401.8L593.94 401.8L594.91 401.8L595.89 401.8L596.87 401.8L597.84 401.8L598.82 401.8L599.8 401.8L600.77 401.8L601.75 401.8L602.73 401.8L603.7 401.8L604.68 401.8L605.65 401.8L606.63 401.8L607.61 401.8L608.58 401.8L609.56 401.8L610.54 401.8L611.51 401.8L612.49 401.8L613.47 401.8L614.44 401.8L615.42 401.8L616.4 401.8L617.37 401.8L618.35 401.8L619.33 401.8L620.3 401.8L621.28 401.8L622.26 401.8L623.23 401.8L624.21 401.8L625.19 401.8L626.16 401.8L627.14 401.8L628.12 401.8L629.09 401.8L630.07 401.8L631.05 401.8L632.02 401.8L633 401.8L633.98 401.8L634.95 401.8L635.93 401.8L636.9 401.8L637.88 401.8L638.86 401.8L639.83 401.8L640.81 401.8L641.79 401.8L642.76 401.8L643.74 401.8L644.72 401.8L645.69 401.8L646.67 401.8L647.65 401.8L648.62 401.8L649.6 401.8L650.58 401.8L651.55 401.8L652.53 401.8L653.51 401.8L654.48 401.8L655.46 401.8L656.44 401.8L657.41 401.8L658.39 401.8L659.37 401.8L660.34 401.8L661.32 401.8L662.3 401.8L663.27 401.8L664.25 401.8L665.23 401.8L666.2 401.8L667.18 401.8L668.15 401.8L669.13 401.8L670.11 401.8L671.08 401.8L672.06 401.8L673.04 401.8L674.01 401.8L674.99 401.8L675.97 401.8L676.94 401.8L677.92 401.8L678.9 401.8L679.87 401.8L680.85 401.8L681.83 401.8L682.8 401.8L683.78 401.8L684.76 401.8L685.73 401.8L686.71 401.8L687.69 401.8L688.66 401.8L689.64 401.8L690.62 401.8L691.59 401.8L692.57 401.8L693.55 401.8L694.52 401.8L695.5 401.8L696.48 401.8L697.45 401.8L698.43 401.8L699.4 401.8L700.38 401.8L701.36 401.8L702.33 401.8L703.31 401.8L704.29 401.8L705.26 401.8L706.24 401.8L707.22 401.8L708.19 401.8L709.17 401.8L710.15 401.8L711.12 401.8L712.1 401.8L713.08 401.8L714.05 401.8L715.03 401.8L716.01 401.8L716.98 401.8L717.96 401.8L718.94 401.8L719.91 401.8L720.89 401.8L721.87 401.8L722.84 401.8L723.82 401.8L724.8 401.8L725.77 401.8L726.75 401.8L727.73 401.8L728.7 401.8L729.68 401.8L730.65 401.8L731.63 401.8L732.61 401.8L733.58 401.8L734.56 401.8L735.54 401.8L736.51 401.8L737.49 401.8L738.47 401.8L739.44 401.8L740.42 401.8L741.4 401.8L742.37 401.8L743.35 401.8L744.33 401.8L745.3 401.8L746.28 401.8L747.26 401.8L748.23 401.8L749.21 401.8L750.19 401.8L751.16 401.8L752.14 401.8L753.12 401.8L754.09 401.8L755.07 401.8L756.05 401.8L757.02 401.8L758 401.8L758.98 401.8L759.95 401.8L760.93 401.8L761.9 401.8L762.88 401.8L763.86 401.8L764.83 401.8L765.81 401.8L766.79 401.8L767.76 401.8L768.74 401.8L769.72 401.8L770.69 401.8L771.67 401.8L772.65 401.8L773.62 401.8L774.6 401.8" fill="none" stroke="#0000ff" stroke-width="3.9" stroke-linejoin="round" stroke-linecap="round"/>
<g fill="#0000ff"><circle cx="462.1" cy="401.8" r="3.5"/><circle cx="481.63" cy="398.78" r="3.5"/><circle cx="501.16" cy="393.51" r="3.5"/><circle cx="520.69" cy="392.73" r="3.5"/><circle cx="540.23" cy="399.37" r="3.5"/><circle cx="559.76" cy="401.59" r="3.5"/><circle cx="579.29" cy="401.79" r="3.5"/><circle cx="598.82" cy="401.8" r="3.5"/><circle cx="618.35" cy="401.8" r="3.5"/><circle cx="637.88" cy="401.8" r="3.5"/><circle cx="657.41" cy="401.8" r="3.5"/><circle cx="676.94" cy="401.8" r="3.5"/><circle cx="696.48" cy="401.8" r="3.5"/><circle cx="716.01" cy="401.8" r="3.5"/><circle cx="735.54" cy="401.8" r="3.5"/><circle cx="755.07" cy="401.8" r="3.5"/><circle cx="774.6" cy="401.8" r="3.5"/></g>
<path d="M462.1 401.8L463.08 401.5L464.05 401.27L465.03 401.08L466.01 400.94L466.98 400.83L467.96 400.75L468.94 400.69L469.91 400.65L470.89 400.62L471.87 400.61L472.84 400.6L473.82 400.61L474.8 400.62L475.77 400.63L476.75 400.65L477.73 400.68L478.7 400.7L479.68 400.73L480.65 400.76L481.63 400.79L482.61 400.82L483.58 400.85L484.56 400.88L485.54 400.9L486.51 400.91L487.49 400.92L488.47 400.93L489.44 400.93L490.42 400.92L491.4 400.92L492.37 400.91L493.35 400.9L494.33 400.9L495.3 400.89L496.28 400.88L497.26 400.88L498.23 400.87L499.21 400.87L500.19 400.87L501.16 400.88L502.14 400.88L503.12 400.89L504.09 400.91L505.07 400.93L506.05 400.95L507.02 400.97L508 401L508.98 401.03L509.95 401.07L510.93 401.1L511.9 401.14L512.88 401.18L513.86 401.22L514.83 401.25L515.81 401.29L516.79 401.33L517.76 401.36L518.74 401.4L519.72 401.43L520.69 401.46L521.67 401.49L522.65 401.52L523.62 401.55L524.6 401.57L525.58 401.6L526.55 401.62L527.53 401.64L528.51 401.66L529.48 401.67L530.46 401.69L531.44 401.7L532.41 401.71L533.39 401.72L534.37 401.73L535.34 401.74L536.32 401.75L537.3 401.75L538.27 401.76L539.25 401.77L540.23 401.77L541.2 401.77L542.18 401.78L543.15 401.78L544.13 401.78L545.11 401.79L546.08 401.79L547.06 401.79L548.04 401.79L549.01 401.79L549.99 401.79L550.97 401.79L551.94 401.8L552.92 401.8L553.9 401.8L554.87 401.8L555.85 401.8L556.83 401.8L557.8 401.8L558.78 401.8L559.76 401.8L560.73 401.8L561.71 401.8L562.69 401.8L563.66 401.8L564.64 401.8L565.62 401.8L566.59 401.8L567.57 401.8L568.55 401.8L569.52 401.8L570.5 401.8L571.48 401.8L572.45 401.8L573.43 401.8L574.4 401.8L575.38 401.8L576.36 401.8L577.33 401.8L578.31 401.8L579.29 401.8L580.26 401.8L581.24 401.8L582.22 401.8L583.19 401.8L584.17 401.8L585.15 401.8L586.12 401.8L587.1 401.8L588.08 401.8L589.05 401.8L590.03 401.8L591.01 401.8L591.98 401.8L592.96 401.8L593.94 401.8L594.91 401.8L595.89 401.8L596.87 401.8L597.84 401.8L598.82 401.8L599.8 401.8L600.77 401.8L601.75 401.8L602.73 401.8L603.7 401.8L604.68 401.8L605.65 401.8L606.63 401.8L607.61 401.8L608.58 401.8L609.56 401.8L610.54 401.8L611.51 401.8L612.49 401.8L613.47 401.8L614.44 401.8L615.42 401.8L616.4 401.8L617.37 401.8L618.35 401.8L619.33 401.8L620.3 401.8L621.28 401.8L622.26 401.8L623.23 401.8L624.21 401.8L625.19 401.8L626.16 401.8L627.14 401.8L628.12 401.8L629.09 401.8L630.07 401.8L631.05 401.8L632.02 401.8L633 401.8L633.98 401.8L634.95 401.8L635.93 401.8L636.9 401.8L637.88 401.8L638.86 401.8L639.83 401.8L640.81 401.8L641.79 401.8L642.76 401.8L643.74 401.8L644.72 401.8L645.69 401.8L646.67 401.8L647.65 401.8L648.62 401.8L649.6 401.8L650.58 401.8L651.55 401.8L652.53 401.8L653.51 401.8L654.48 401.8L655.46 401.8L656.44 401.8L657.41 401.8L658.39 401.8L659.37 401.8L660.34 401.8L661.32 401.8L662.3 401.8L663.27 401.8L664.25 401.8L665.23 401.8L666.2 401.8L667.18 401.8L668.15 401.8L669.13 401.8L670.11 401.8L671.08 401.8L672.06 401.8L673.04 401.8L674.01 401.8L674.99 401.8L675.97 401.8L676.94 401.8L677.92 401.8L678.9 401.8L679.87 401.8L680.85 401.8L681.83 401.8L682.8 401.8L683.78 401.8L684.76 401.8L685.73 401.8L686.71 401.8L687.69 401.8L688.66 401.8L689.64 401.8L690.62 401.8L691.59 401.8L692.57 401.8L693.55 401.8L694.52 401.8L695.5 401.8L696.48 401.8L697.45 401.8L698.43 401.8L699.4 401.8L700.38 401.8L701.36 401.8L702.33 401.8L703.31 401.8L704.29 401.8L705.26 401.8L706.24 401.8L707.22 401.8L708.19 401.8L709.17 401.8L710.15 401.8L711.12 401.8L712.1 401.8L713.08 401.8L714.05 401.8L715.03 401.8L716.01 401.8L716.98 401.8L717.96 401.8L718.94 401.8L719.91 401.8L720.89 401.8L721.87 401.8L722.84 401.8L723.82 401.8L724.8 401.8L725.77 401.8L726.75 401.8L727.73 401.8L728.7 401.8L729.68 401.8L730.65 401.8L731.63 401.8L732.61 401.8L733.58 401.8L734.56 401.8L735.54 401.8L736.51 401.8L737.49 401.8L738.47 401.8L739.44 401.8L740.42 401.8L741.4 401.8L742.37 401.8L743.35 401.8L744.33 401.8L745.3 401.8L746.28 401.8L747.26 401.8L748.23 401.8L749.21 401.8L750.19 401.8L751.16 401.8L752.14 401.8L753.12 401.8L754.09 401.8L755.07 401.8L756.05 401.8L757.02 401.8L758 401.8L758.98 401.8L759.95 401.8L760.93 401.8L761.9 401.8L762.88 401.8L763.86 401.8L764.83 401.8L765.81 401.8L766.79 401.8L767.76 401.8L768.74 401.8L769.72 401.8L770.69 401.8L771.67 401.8L772.65 401.8L773.62 401.8L774.6 401.8" fill="none" stroke="#00ffff" stroke-width="3.9" stroke-linejoin="round" stroke-linecap="round"/>
<g fill="#00ffff"><circle cx="462.1" cy="401.8" r="3.5"/><circle cx="481.63" cy="400.79" r="3.5"/><circle cx="501.16" cy="400.88" r="3.5"/><circle cx="520.69" cy="401.46" r="3.5"/><circle cx="540.23" cy="401.77" r="3.5"/><circle cx="559.76" cy="401.8" r="3.5"/><circle cx="579.29" cy="401.8" r="3.5"/><circle cx="598.82" cy="401.8" r="3.5"/><circle cx="618.35" cy="401.8" r="3.5"/><circle cx="637.88" cy="401.8" r="3.5"/><circle cx="657.41" cy="401.8" r="3.5"/><circle cx="676.94" cy="401.8" r="3.5"/><circle cx="696.48" cy="401.8" r="3.5"/><circle cx="716.01" cy="401.8" r="3.5"/><circle cx="735.54" cy="401.8" r="3.5"/><circle cx="755.07" cy="401.8" r="3.5"/><circle cx="774.6" cy="401.8" r="3.5"/></g>
</g>
<rect x="462.1" y="16.1" width="312.5" height="385.7" fill="none" stroke="#000" stroke-width="2" stroke-linejoin="miter"/>
<text x="459.25" y="423" font-size="16">0</text>
<text x="498.31" y="423" font-size="16">2</text>
<text x="537.38" y="423" font-size="16">4</text>
<text x="576.44" y="423" font-size="16">6</text>
<text x="615.5" y="423" font-size="16">8</text>
<text x="659.51" y="423" font-size="16">0</text><path class="n1" d="M656.36 423H654.97V414.95H652.23V413.96C653.8 413.88 654.98 413.35 655.45 411.66H656.36Z"/>
<text x="698.58" y="423" font-size="16">2</text><path class="n1" d="M695.42 423H694.03V414.95H691.29V413.96C692.86 413.88 694.04 413.35 694.51 411.66H695.42Z"/>
<text x="737.64" y="423" font-size="16">4</text><path class="n1" d="M734.48 423H733.09V414.95H730.36V413.96C731.92 413.88 733.11 413.35 733.57 411.66H734.48Z"/>
<text x="776.7" y="423" font-size="16">6</text><path class="n1" d="M773.55 423H772.15V414.95H769.42V413.96C770.99 413.88 772.17 413.35 772.63 411.66H773.55Z"/>
<text x="444" y="407.4" font-size="16">0</text>
<text x="408.41 417.31 426.2 435.1 444" y="364.54" font-size="16">20000</text>
<text x="408.41 417.31 426.2 435.1 444" y="321.69" font-size="16">40000</text>
<text x="408.41 417.31 426.2 435.1 444" y="278.83" font-size="16">60000</text>
<text x="408.41 417.31 426.2 435.1 444" y="235.98" font-size="16">80000</text>
<text x="408.41 417.31 426.2 435.1 444" y="193.12" font-size="16">00000</text><path class="n1" d="M405.25 193.12H403.86V185.07H401.13V184.08C402.69 184 403.88 183.47 404.34 181.78H405.25Z"/>
<text x="408.41 417.31 426.2 435.1 444" y="150.27" font-size="16">20000</text><path class="n1" d="M405.25 150.27H403.86V142.22H401.13V141.23C402.69 141.15 403.88 140.62 404.34 138.92H405.25Z"/>
<text x="408.41 417.31 426.2 435.1 444" y="107.41" font-size="16">40000</text><path class="n1" d="M405.25 107.41H403.86V99.36H401.13V98.37C402.69 98.29 403.88 97.76 404.34 96.07H405.25Z"/>
<text x="408.41 417.31 426.2 435.1 444" y="64.56" font-size="16">60000</text><path class="n1" d="M405.25 64.56H403.86V56.51H401.13V55.52C402.69 55.44 403.88 54.91 404.34 53.21H405.25Z"/>
<text x="408.41 417.31 426.2 435.1 444" y="21.7" font-size="16">80000</text><path class="n1" d="M405.25 21.7H403.86V13.65H401.13V12.66C402.69 12.58 403.88 12.05 404.34 10.36H405.25Z"/>
<clipPath id="ci"><rect x="641.1" y="48.3" width="101.8" height="162.4"/></clipPath>
<path d="M658.5 206.7V197.4M658.5 52.3V61.6M671.9 206.7V197.4M671.9 52.3V61.6M685.3 206.7V197.4M685.3 52.3V61.6M698.7 206.7V197.4M698.7 52.3V61.6M712.1 206.7V197.4M712.1 52.3V61.6M725.5 206.7V197.4M725.5 52.3V61.6M645.1 180.97H654.4M738.9 180.97H729.6M645.1 155.23H654.4M738.9 155.23H729.6M645.1 129.5H654.4M738.9 129.5H729.6M645.1 103.77H654.4M738.9 103.77H729.6M645.1 78.03H654.4M738.9 78.03H729.6" fill="none" stroke="#000" stroke-width="1.7" stroke-linecap="round"/>
<g clip-path="url(#ci)">
<path d="M645.1 202.7C647.33 195.71 649.57 188.73 651.8 179.94C654.03 171.15 656.27 160.55 658.5 153.86C660.73 147.17 662.97 144.38 665.2 143.81C667.43 143.23 669.67 144.87 671.9 147.17C674.13 149.47 676.37 152.43 678.6 159.07C680.83 165.7 683.07 176.01 685.3 183.23C687.53 190.44 689.77 194.56 692 197.36C694.23 200.16 696.47 201.63 698.7 202.7C700.93 203.76 703.17 204.41 705.4 204.9C707.63 205.38 709.87 205.7 712.1 205.93C714.33 206.15 716.57 206.28 718.8 206.37C721.03 206.47 723.27 206.53 725.5 206.57C727.73 206.61 729.97 206.63 732.2 206.65C734.43 206.66 736.67 206.67 738.9 206.68" fill="none" stroke="#000" stroke-width="2" stroke-linejoin="round" stroke-linecap="round"/>
<g fill="#000"><circle cx="645.1" cy="202.7" r="2.5"/><circle cx="651.8" cy="179.94" r="2.5"/><circle cx="658.5" cy="153.86" r="2.5"/><circle cx="665.2" cy="143.81" r="2.5"/><circle cx="671.9" cy="147.17" r="2.5"/><circle cx="678.6" cy="159.07" r="2.5"/><circle cx="685.3" cy="183.23" r="2.5"/><circle cx="692" cy="197.36" r="2.5"/><circle cx="698.7" cy="202.7" r="2.5"/><circle cx="705.4" cy="204.9" r="2.5"/><circle cx="712.1" cy="205.93" r="2.5"/><circle cx="718.8" cy="206.37" r="2.5"/><circle cx="725.5" cy="206.57" r="2.5"/><circle cx="732.2" cy="206.65" r="2.5"/><circle cx="738.9" cy="206.68" r="2.5"/></g>
<path d="M645.1 206.7C647.33 205.81 649.57 204.91 651.8 202.67C654.03 200.42 656.27 196.83 658.5 169.82C660.73 142.8 662.97 92.38 665.2 72.2C667.43 52.02 669.67 62.09 671.9 86.61C674.13 111.13 676.37 150.1 678.6 171.32C680.83 192.53 683.07 195.99 685.3 198.51C687.53 201.03 689.77 202.6 692 203.61C694.23 204.62 696.47 205.06 698.7 205.41C700.93 205.76 703.17 206.02 705.4 206.19C707.63 206.35 709.87 206.43 712.1 206.49C714.33 206.54 716.57 206.58 718.8 206.61C721.03 206.64 723.27 206.66 725.5 206.67C727.73 206.69 729.97 206.7 732.2 206.7C734.43 206.7 736.67 206.7 738.9 206.7" fill="none" stroke="#000" stroke-width="2" stroke-linejoin="round" stroke-linecap="round"/>
<g fill="#000"><circle cx="645.1" cy="206.7" r="2.5"/><circle cx="651.8" cy="202.67" r="2.5"/><circle cx="658.5" cy="169.82" r="2.5"/><circle cx="665.2" cy="72.2" r="2.5"/><circle cx="671.9" cy="86.61" r="2.5"/><circle cx="678.6" cy="171.32" r="2.5"/><circle cx="685.3" cy="198.51" r="2.5"/><circle cx="692" cy="203.61" r="2.5"/><circle cx="698.7" cy="205.41" r="2.5"/><circle cx="705.4" cy="206.19" r="2.5"/><circle cx="712.1" cy="206.49" r="2.5"/><circle cx="718.8" cy="206.61" r="2.5"/><circle cx="725.5" cy="206.67" r="2.5"/><circle cx="732.2" cy="206.7" r="2.5"/><circle cx="738.9" cy="206.7" r="2.5"/></g>
</g>
<rect x="645.1" y="52.3" width="93.8" height="154.4" fill="none" stroke="#000" stroke-width="1.85" stroke-linejoin="miter"/>
<text x="642.5" y="226.1" font-size="12.6">0</text>
<text x="655.9" y="226.1" font-size="12.6">2</text>
<text x="669.3" y="226.1" font-size="12.6">4</text>
<text x="682.7" y="226.1" font-size="12.6">6</text>
<text x="696.1" y="226.1" font-size="12.6">8</text>
<text x="713.5" y="226.1" font-size="12.6">0</text><path class="n1" d="M711.02 226.1H709.92V219.76H707.77V218.98C709 218.92 709.93 218.5 710.3 217.17H711.02Z"/>
<text x="726.9" y="226.1" font-size="12.6">2</text><path class="n1" d="M724.42 226.1H723.32V219.76H721.17V218.98C722.4 218.92 723.33 218.5 723.7 217.17H724.42Z"/>
<text x="740.3" y="226.1" font-size="12.6">4</text><path class="n1" d="M737.82 226.1H736.72V219.76H734.57V218.98C735.8 218.92 736.73 218.5 737.1 217.17H737.82Z"/>
<text x="628.29" y="211.3" font-size="12.6">0</text>
<text x="600.26 607.27 614.28 621.28 628.29" y="185.57" font-size="12.6">30000</text>
<text x="600.26 607.27 614.28 621.28 628.29" y="159.83" font-size="12.6">60000</text>
<text x="600.26 607.27 614.28 621.28 628.29" y="134.1" font-size="12.6">90000</text>
<text x="600.26 607.27 614.28 621.28 628.29" y="108.37" font-size="12.6">20000</text><path class="n1" d="M597.78 108.37H596.68V102.03H594.53V101.25C595.76 101.18 596.69 100.77 597.06 99.43H597.78Z"/>
<text x="600.26 607.27 614.28 621.28 628.29" y="82.63" font-size="12.6">50000</text><path class="n1" d="M597.78 82.63H596.68V76.3H594.53V75.51C595.76 75.45 596.69 75.04 597.06 73.7H597.78Z"/>
<text x="600.26 607.27 614.28 621.28 628.29" y="56.9" font-size="12.6">80000</text><path class="n1" d="M597.78 56.9H596.68V50.56H594.53V49.78C595.76 49.72 596.69 49.3 597.06 47.97H597.78Z"/>
<g font-size="16">
<text x="240.2" y="446.3" text-anchor="middle">layer index k</text>
<text x="618.6" y="446.3" text-anchor="middle">layer index k</text>
<text x="247.6" y="294.6">Kohn-Sham</text>
<text x="627.3" y="294.6">Feynman</text>
</g>
<g font-size="9.8">
<text x="680.2" y="76.4">Feynman</text>
<text x="692.0" y="173.1">KS</text>
</g>
<circle cx="249.3" cy="59.1" r="3.5" fill="#000000"/>
<g transform="translate(289 64.1)"><path fill-rule="evenodd" d="M0 -3.95A3.5 3.75 0 1 1 7 -3.95A3.5 3.75 0 1 1 0 -3.95ZM1.5 -3.95A2.45 3.2 0 1 0 6.4 -3.95A2.45 3.2 0 1 0 1.5 -3.95Z"/><path d="M8.3 -7.35C7.9 -5.8 7.2 -4.2 7.1 -2.8C7 -1.4 7.7 -0.5 9 -0.9" fill="none" stroke="#000" stroke-width="1.0" stroke-linecap="round"/><path d="M10.3 -5.3H18.6M10.3 -2.3H18.6" stroke="#000" stroke-width="1.3" fill="none"/></g>
<text x="316.85 321.29" y="64.1" font-size="16">.0</text><path class="n1" d="M313.69 64.1H312.3V56.05H309.57V55.06C311.13 54.98 312.32 54.45 312.78 52.76H313.69Z"/>
<circle cx="249.3" cy="74.88" r="3.5" fill="#ff0000"/>
<g transform="translate(289 79.88)"><path fill-rule="evenodd" d="M0 -3.95A3.5 3.75 0 1 1 7 -3.95A3.5 3.75 0 1 1 0 -3.95ZM1.5 -3.95A2.45 3.2 0 1 0 6.4 -3.95A2.45 3.2 0 1 0 1.5 -3.95Z"/><path d="M8.3 -7.35C7.9 -5.8 7.2 -4.2 7.1 -2.8C7 -1.4 7.7 -0.5 9 -0.9" fill="none" stroke="#000" stroke-width="1.0" stroke-linecap="round"/><path d="M10.3 -5.3H18.6M10.3 -2.3H18.6" stroke="#000" stroke-width="1.3" fill="none"/></g>
<text x="307.95 316.85 321.29" y="79.88" font-size="16">0.9</text>
<circle cx="249.3" cy="90.66" r="3.5" fill="#ff4500"/>
<g transform="translate(289 95.66)"><path fill-rule="evenodd" d="M0 -3.95A3.5 3.75 0 1 1 7 -3.95A3.5 3.75 0 1 1 0 -3.95ZM1.5 -3.95A2.45 3.2 0 1 0 6.4 -3.95A2.45 3.2 0 1 0 1.5 -3.95Z"/><path d="M8.3 -7.35C7.9 -5.8 7.2 -4.2 7.1 -2.8C7 -1.4 7.7 -0.5 9 -0.9" fill="none" stroke="#000" stroke-width="1.0" stroke-linecap="round"/><path d="M10.3 -5.3H18.6M10.3 -2.3H18.6" stroke="#000" stroke-width="1.3" fill="none"/></g>
<text x="307.95 316.85 321.29" y="95.66" font-size="16">0.7</text>
<circle cx="249.3" cy="106.44" r="3.5" fill="#00ff00"/>
<g transform="translate(289 111.44)"><path fill-rule="evenodd" d="M0 -3.95A3.5 3.75 0 1 1 7 -3.95A3.5 3.75 0 1 1 0 -3.95ZM1.5 -3.95A2.45 3.2 0 1 0 6.4 -3.95A2.45 3.2 0 1 0 1.5 -3.95Z"/><path d="M8.3 -7.35C7.9 -5.8 7.2 -4.2 7.1 -2.8C7 -1.4 7.7 -0.5 9 -0.9" fill="none" stroke="#000" stroke-width="1.0" stroke-linecap="round"/><path d="M10.3 -5.3H18.6M10.3 -2.3H18.6" stroke="#000" stroke-width="1.3" fill="none"/></g>
<text x="307.95 316.85 321.29" y="111.44" font-size="16">0.5</text>
<circle cx="249.3" cy="122.22" r="3.5" fill="#0000ff"/>
<g transform="translate(289 127.22)"><path fill-rule="evenodd" d="M0 -3.95A3.5 3.75 0 1 1 7 -3.95A3.5 3.75 0 1 1 0 -3.95ZM1.5 -3.95A2.45 3.2 0 1 0 6.4 -3.95A2.45 3.2 0 1 0 1.5 -3.95Z"/><path d="M8.3 -7.35C7.9 -5.8 7.2 -4.2 7.1 -2.8C7 -1.4 7.7 -0.5 9 -0.9" fill="none" stroke="#000" stroke-width="1.0" stroke-linecap="round"/><path d="M10.3 -5.3H18.6M10.3 -2.3H18.6" stroke="#000" stroke-width="1.3" fill="none"/></g>
<text x="307.95 316.85 321.29" y="127.22" font-size="16">0.3</text>
<circle cx="249.3" cy="138" r="3.5" fill="#00ffff"/>
<g transform="translate(289 143)"><path fill-rule="evenodd" d="M0 -3.95A3.5 3.75 0 1 1 7 -3.95A3.5 3.75 0 1 1 0 -3.95ZM1.5 -3.95A2.45 3.2 0 1 0 6.4 -3.95A2.45 3.2 0 1 0 1.5 -3.95Z"/><path d="M8.3 -7.35C7.9 -5.8 7.2 -4.2 7.1 -2.8C7 -1.4 7.7 -0.5 9 -0.9" fill="none" stroke="#000" stroke-width="1.0" stroke-linecap="round"/><path d="M10.3 -5.3H18.6M10.3 -2.3H18.6" stroke="#000" stroke-width="1.3" fill="none"/></g>
<text x="307.95 316.85" y="143" font-size="16">0.</text><path class="n1" d="M327.04 143H325.65V134.95H322.91V133.96C324.48 133.88 325.66 133.35 326.13 131.66H327.04Z"/>
<g transform="translate(24.9 231.6) rotate(-90)">
<g transform="translate(0.2 0)"><path fill-rule="evenodd" d="M0 -3.95A3.5 3.75 0 1 1 7 -3.95A3.5 3.75 0 1 1 0 -3.95ZM1.5 -3.95A2.45 3.2 0 1 0 6.4 -3.95A2.45 3.2 0 1 0 1.5 -3.95Z"/><path d="M8.3 -7.35C7.9 -5.8 7.2 -4.2 7.1 -2.8C7 -1.4 7.7 -0.5 9 -0.9" fill="none" stroke="#000" stroke-width="1.0" stroke-linecap="round"/></g>
<text x="10.1" y="-8.8" font-size="11.5">k</text>
<path d="M17.9 0V-11.8M43.5 0V-11.8" stroke="#000" stroke-width="1.5" fill="none"/>
<text x="19.85" y="0" font-size="16">L</text>
<text x="29.1" y="5.0" font-size="12">i,k</text>
</g>
</svg>
</body></html>
